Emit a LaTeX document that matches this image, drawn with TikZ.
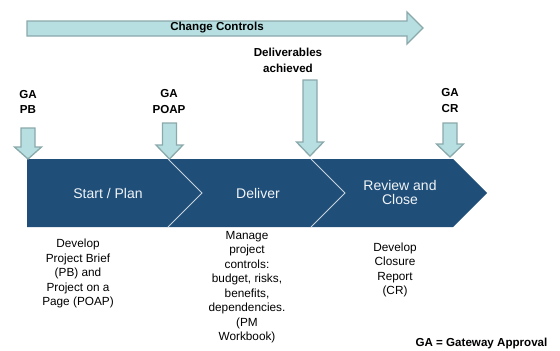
\documentclass[tikz,border=0pt]{standalone}
\usepackage{fontspec}
\setmainfont{Liberation Sans}
\definecolor{phaseblue}{HTML}{1F4E79}
\definecolor{gatefill}{HTML}{B7DFE1}
\definecolor{gateedge}{HTML}{8AA9AB}
\definecolor{divline}{HTML}{C8D4DC}
\begin{document}
\begin{tikzpicture}[x=1pt,y=-1pt,
  gatearrow/.style={fill=gatefill,draw=gateedge,line width=1.3pt,line join=miter},
  phase/.style={fill=phaseblue,draw=none},
  divider/.style={draw=divline,line width=0.8pt},
  boldlabel/.style={font=\fontsize{11.6}{15.5}\selectfont\bfseries,align=center,inner sep=0pt},
  phaselabel/.style={font=\fontsize{14}{14}\selectfont,text=white!94!phaseblue,align=center,inner sep=0pt},
  notelabel/.style={font=\fontsize{11.8}{14.5}\selectfont,align=center,inner sep=0pt}]
\useasboundingbox (0,0) rectangle (560,351);

% change controls arrow across the top
\path[gatearrow] (27,21) -- (407,21) -- (407,12) -- (423,28) -- (407,44) -- (407,36) -- (27,36) -- cycle;
\node[boldlabel] (cc) at (217,28) {Change Controls};

% phase band
\path[phase] (27,159) -- (453,159) -- (487,193) -- (453,227) -- (27,227) -- cycle;
\draw[divider] (168,159) -- (202,193) -- (168,227);
\draw[divider] (311,159) -- (345,193) -- (311,227);
\node[phaselabel] (p1) at (108,193) {Start / Plan};
\node[phaselabel] (p2) at (258,193) {Deliver};
\node[phaselabel] (p3) at (400,192) {Review and\\Close};

% gateway arrows: centre x, shaft top, head start, tip
\newcommand\gatedown[4]{%
  \path[gatearrow] (#1-7,#2) -- (#1+7,#2) -- (#1+7,#3) -- (#1+13.5,#3) -- (#1,#4)
    -- (#1-13.5,#3) -- (#1-7,#3) -- cycle;}
\gatedown{28}{128}{147}{159}
\gatedown{169.5}{123}{145}{159}
\gatedown{310}{80}{142}{156}
\gatedown{450}{123}{144}{157}

\node[boldlabel] (gpb) at (28,102) {GA\\PB};
\node[boldlabel] (gpoap) at (169,101.5) {GA\\POAP};
\node[boldlabel] (gdel) at (288,60.5) {Deliverables\\achieved};
\node[boldlabel] (gcr) at (450,100.5) {GA\\CR};

% phase notes
\node[notelabel] (n1) at (78,273.5) {Develop\\Project Brief\\(PB) and\\Project on a\\Page (POAP)};
\node[notelabel] (n2) at (247,287) {Manage\\project\\controls:\\budget, risks,\\benefits,\\dependencies.\\(PM\\Workbook)};
\node[notelabel] (n3) at (395,270) {Develop\\Closure\\Report\\(CR)};

\node[boldlabel] (key) at (481.5,343) {GA = Gateway Approval};
\end{tikzpicture}
\end{document}
